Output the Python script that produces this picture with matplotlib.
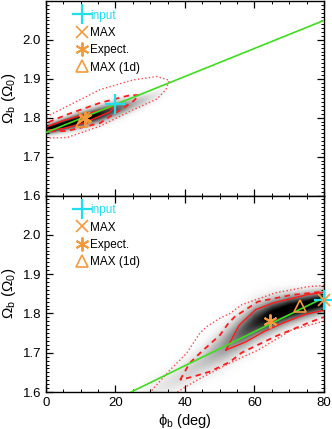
import numpy as np
import matplotlib
matplotlib.use('Agg')
import matplotlib.pyplot as plt
from matplotlib.lines import Line2D

plt.rcParams['font.family'] = ['Liberation Sans', 'DejaVu Sans']
plt.rcParams['mathtext.fontset'] = 'custom'
plt.rcParams['mathtext.rm'] = 'Liberation Sans'
plt.rcParams['mathtext.it'] = 'Liberation Sans:italic'

# %% data
# green line (phi, Omega) end points
top_line_phi = [0, 80]
top_line_om = [1.762, 2.050]
bot_line_phi = [24.5, 80]
bot_line_om = [1.600, 1.840]

# markers: input, MAX, expectation, MAX (1d)
top_input = (20.0, 1.835)
top_max = (10.8, 1.798)
top_expect = (11.2, 1.798)
top_max1d = (10.3, 1.791)
bot_input = (80.0, 1.835)
bot_max = (80.0, 1.833)
bot_expect = (64.5, 1.781)
bot_max1d = (73.2, 1.820)

# density ridge (centre, width, amplitude) along phi
top_ridge_phi = [-5, 0, 5, 10, 15, 20, 25, 30, 36]
top_ridge_om = [1.758, 1.770, 1.782, 1.795, 1.808, 1.822, 1.836, 1.852, 1.875]
top_ridge_sig = [0.007, 0.008, 0.010, 0.012, 0.013, 0.013, 0.012, 0.011, 0.009]
top_ridge_amp = [0.8, 0.95, 1.0, 1.0, 0.85, 0.6, 0.3, 0.12, 0.0]

bot_ridge_phi = [25, 30, 38, 45, 50, 55, 60, 65, 70, 75, 80, 85]
bot_ridge_om = [1.575, 1.600, 1.635, 1.677, 1.708, 1.742, 1.775, 1.795, 1.810, 1.820, 1.830, 1.838]
bot_ridge_sig = [0.018, 0.020, 0.022, 0.025, 0.028, 0.029, 0.028, 0.025, 0.022, 0.019, 0.017, 0.017]
bot_ridge_amp = [0.0, 0.06, 0.12, 0.2, 0.32, 0.5, 0.75, 0.95, 1.0, 1.0, 1.0, 1.0]

# confidence contours (solid = 1 sigma, dashed = 2 sigma, dotted = 3 sigma)
top_c1_phi = [-1, 0, 5, 10.7, 18.4, 20, 18.4, 10.7, 5, 0, -1]
top_c1_om = [1.771, 1.776, 1.793, 1.807, 1.826, 1.830, 1.815, 1.786, 1.772, 1.768, 1.766]
top_c2_phi = [-2, 0, 6, 15.5, 24.2, 26.8, 25.1, 15.5, 6, 0, -2]
top_c2_om = [1.781, 1.786, 1.808, 1.838, 1.858, 1.858, 1.842, 1.786, 1.766, 1.765, 1.763]
top_c3_phi = [-2, 0.2, 6, 15.5, 25, 31.9, 35.5, 34.5, 31.9, 25, 15.5, 6, 0, -2]
top_c3_om = [1.800, 1.803, 1.829, 1.872, 1.897, 1.906, 1.896, 1.872, 1.848, 1.820, 1.778, 1.749, 1.748, 1.748]

bot_c1_phi = [51.8, 55.6, 60.4, 65.5, 74.8, 81, 81, 74.8, 68, 63, 57.6, 51.8]
bot_c1_om = [1.707, 1.770, 1.810, 1.827, 1.847, 1.855, 1.810, 1.798, 1.775, 1.755, 1.728, 1.707]
bot_c2_phi = [38.6, 41.4, 44.8, 50.1, 52.5, 54.4, 61, 70.7, 79.4, 81,
              81, 79.4, 75.5, 65.9, 56.3, 53, 47.2, 42.3, 38.6]
bot_c2_om = [1.631, 1.674, 1.703, 1.745, 1.775, 1.792, 1.830, 1.847, 1.855, 1.857,
             1.792, 1.789, 1.776, 1.741, 1.700, 1.677, 1.652, 1.639, 1.631]
bot_c3_phi = [29, 35.7, 40.5, 44.3, 46.2, 50.1, 53, 56.3, 65.9, 75.4, 81,
              81, 79.4, 70.7, 61.1, 53, 50.1, 45.3, 40.5, 37.5]
bot_c3_om = [1.590, 1.656, 1.699, 1.750, 1.766, 1.788, 1.800, 1.822, 1.852, 1.868, 1.872,
             1.781, 1.779, 1.758, 1.707, 1.674, 1.661, 1.639, 1.615, 1.598]

PHI_LIM = (0, 80)
OM_LIM = (1.6, 2.1)
CYAN = '#22ddee'
ORANGE = '#f59a3c'
GREEN = '#3fdd1f'
RED = '#ff1a1a'


def ridge_image(ax, phi_k, om_k, sig_k, amp_k):
    pg = np.linspace(PHI_LIM[0], PHI_LIM[1], 400)
    og = np.linspace(OM_LIM[0], OM_LIM[1], 400)
    P, O = np.meshgrid(pg, og)
    c = np.interp(P, phi_k, om_k)
    s = np.interp(P, phi_k, sig_k)
    a = np.interp(P, phi_k, amp_k)
    dens = a * np.exp(-0.5 * ((O - c) / s) ** 2)
    ax.imshow(dens, extent=[*PHI_LIM, *OM_LIM], origin='lower', aspect='auto',
              cmap='gray_r', vmin=0, vmax=0.9, interpolation='bilinear', zorder=0)


def draw_panel(ax, line_phi, line_om, ridge, contours, pts):
    ridge_image(ax, *ridge)
    (c1p, c1o), (c2p, c2o), (c3p, c3o) = contours
    ax.plot(c3p, c3o, ':', color=RED, lw=1.0, alpha=0.8, zorder=2)
    ax.plot(c2p, c2o, '--', color=RED, lw=1.3, dashes=(3, 2.5), zorder=2)
    ax.plot(c1p, c1o, '-', color=RED, lw=1.0, zorder=2)
    ax.plot(line_phi, line_om, '-', color=GREEN, lw=1.2, zorder=3)
    inp, mx, ex, m1 = pts
    ax.plot(*inp, '+', color=CYAN, ms=14, mew=1.6, clip_on=False, zorder=5)
    ax.plot(*mx, 'x', color=ORANGE, ms=8, mew=1.2, clip_on=False, zorder=5)
    ax.plot(*ex, marker=(6, 2, 0), color=ORANGE, ms=10, mew=1.4, ls='', zorder=5)
    ax.plot(*m1, '^', color=ORANGE, mfc='none', ms=9, mew=1.2, zorder=5)

    handles = [Line2D([], [], ls='', marker='+', color=CYAN, ms=14, mew=1.6),
               Line2D([], [], ls='', marker='x', color=ORANGE, ms=8, mew=1.2),
               Line2D([], [], ls='', marker=(6, 2, 0), color=ORANGE, ms=10, mew=1.4),
               Line2D([], [], ls='', marker='^', color=ORANGE, mfc='none', ms=9, mew=1.2)]
    ax.legend(handles, ['input', 'MAX', 'Expect.', 'MAX (1d)'],
              labelcolor=[CYAN, 'black', 'black', 'black'],
              loc='upper left', bbox_to_anchor=(0.09, 0.98), frameon=False,
              fontsize=8.5, handlelength=1.0, handletextpad=0.2,
              labelspacing=0.45, borderaxespad=0.2, borderpad=0.2)

    ax.set_xlim(*PHI_LIM)
    ax.set_ylim(*OM_LIM)
    ax.set_xticks([0, 20, 40, 60, 80])
    ax.set_xticks(np.arange(0, 81, 5), minor=True)
    ax.set_yticks([1.6, 1.7, 1.8, 1.9, 2.0])
    ax.set_yticks(np.arange(1.6, 2.1001, 0.01), minor=True)
    ax.tick_params(which='both', direction='in', top=True, right=True,
                   labelsize=9.5)
    ax.tick_params(which='major', length=5, width=0.9)
    ax.tick_params(which='minor', length=2.5, width=0.7)
    ax.set_ylabel('Ω$_{\\rm b}$ (Ω$_{\\rm 0}$)', fontsize=11, labelpad=3)
    for sp in ax.spines.values():
        sp.set_linewidth(1.0)


fig = plt.figure(figsize=(3.32, 4.29), dpi=100)
ax_top = fig.add_axes([0.1386, 0.5442, 0.837, 0.4535])
ax_bot = fig.add_axes([0.1386, 0.0862, 0.837, 0.458])

draw_panel(ax_top, top_line_phi, top_line_om,
           (top_ridge_phi, top_ridge_om, top_ridge_sig, top_ridge_amp),
           ((top_c1_phi, top_c1_om), (top_c2_phi, top_c2_om), (top_c3_phi, top_c3_om)),
           (top_input, top_max, top_expect, top_max1d))
draw_panel(ax_bot, bot_line_phi, bot_line_om,
           (bot_ridge_phi, bot_ridge_om, bot_ridge_sig, bot_ridge_amp),
           ((bot_c1_phi, bot_c1_om), (bot_c2_phi, bot_c2_om), (bot_c3_phi, bot_c3_om)),
           (bot_input, bot_max, bot_expect, bot_max1d))

ax_top.tick_params(labelbottom=False)
ax_bot.set_xlabel('ϕ$_{\\rm b}$ (deg)', fontsize=10.5, labelpad=2)

fig.savefig('out.png', dpi=100)
